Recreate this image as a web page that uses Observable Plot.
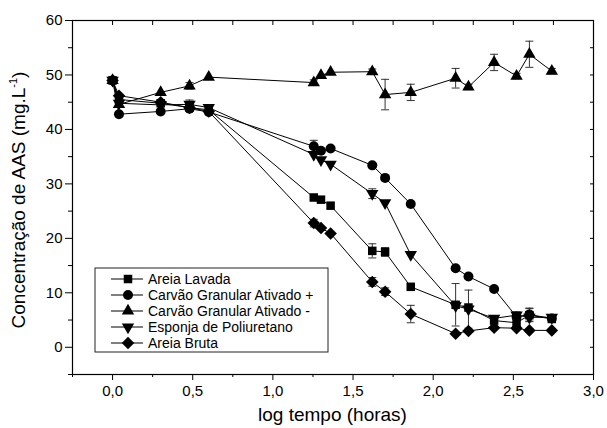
<!DOCTYPE html>
<html><head><meta charset="utf-8">
<script src="https://cdn.jsdelivr.net/npm/d3@7"></script>
<script src="https://cdn.jsdelivr.net/npm/@observablehq/plot@0.6"></script>
<style>
body{margin:0;background:#fff;}
#chart{width:607px;height:428px;}
</style>
</head><body><div id="chart"></div>
<script>
// ---- data ----
const logTempo = [0, 0.04, 0.30, 0.48, 0.60, 1.255, 1.30, 1.36, 1.62, 1.70, 1.86, 2.14, 2.22, 2.38, 2.52, 2.60, 2.74];

const seriesNames = ["Areia Lavada", "Carvão Granular Ativado +", "Carvão Granular Ativado -", "Esponja de Poliuretano", "Areia Bruta"];

const areiaLavada      = [49, 45.5, 44.8, 44.0, 43.6, 27.5, 27.1, 26.0, 17.7, 17.5, 11.1, 7.8, 7.3, 4.9, 4.5, 5.9, 5.2];
const areiaLavadaErr   = [0, 0, 0, 0, 0, 0, 0, 0, 1.3, 0.8, 0, 3.9, 0, 0, 0, 1.2, 0];

const carvaoMais       = [49, 42.8, 43.3, 43.8, 43.2, 36.9, 36.1, 36.5, 33.4, 31.1, 26.3, 14.5, 13.0, 10.7, 5.6, 6.0, 5.3];
const carvaoMaisErr    = [0, 0, 0, 0, 0, 1.1, 0, 0, 0, 0, 0, 0, 0, 0, 0, 1.2, 0];

const carvaoMenos      = [49, 44.6, 46.8, 48.0, 49.6, 48.6, 49.9, 50.5, 50.6, 46.4, 46.8, 49.4, 47.8, 52.3, 49.8, 53.8, 50.7];
const carvaoMenosErr   = [0, 0, 0, 0.6, 0, 0.5, 0, 0, 0.5, 2.8, 1.5, 1.8, 0.5, 1.5, 0.5, 2.4, 0.5];

const esponja          = [49, 44.8, 44.5, 44.6, 44.0, 35.4, 34.4, 33.6, 28.2, 26.5, 17.0, 7.6, 7.0, 5.3, 5.9, 5.5, 5.5];
const esponjaErr       = [0, 0, 0, 0.8, 0, 0, 0, 0, 0.9, 0, 0, 0, 3.5, 0, 0.6, 0, 0];

const areiaBruta       = [49, 46.2, 45.0, 44.0, 43.3, 22.8, 21.9, 20.9, 12.0, 10.2, 6.1, 2.5, 3.0, 3.6, 3.5, 3.1, 3.1];
const areiaBrutaErr    = [0, 0, 0, 0, 0, 0.7, 0, 0, 0.8, 0.7, 1.6, 0, 0, 0, 0, 0, 0];

const xTicks      = [0, 0.5, 1.0, 1.5, 2.0, 2.5, 3.0];
const xMinorTicks = [-0.25, 0.25, 0.75, 1.25, 1.75, 2.25, 2.75];
const yTicks      = [0, 10, 20, 30, 40, 50, 60];
const yMinorTicks = [-5, 5, 15, 25, 35, 45, 55];

// ---- styles ----
const seriesValues = [areiaLavada, carvaoMais, carvaoMenos, esponja, areiaBruta];
const seriesErrs   = [areiaLavadaErr, carvaoMaisErr, carvaoMenosErr, esponjaErr, areiaBrutaErr];
const markerStyle = [
  {symbol: "square",   rotate: 0,   r: 4.8},
  {symbol: "circle",   rotate: 0,   r: 5},
  {symbol: "triangle", rotate: 0,   r: 4.6},
  {symbol: "triangle", rotate: 180, r: 4.6},
  {symbol: "square",   rotate: 45,  r: 5}
];

const rows = [];
seriesNames.forEach((name, i) => {
  logTempo.forEach((x, j) => rows.push({series: name, idx: i, x, y: seriesValues[i][j], err: seriesErrs[i][j]}));
});
const errRows = rows.filter(d => d.err > 0);

const capSymbol = {
  draw(context, size) {
    const r = Math.sqrt(size / Math.PI);
    context.moveTo(-r, 0);
    context.lineTo(r, 0);
  }
};

const fmt = d => d.toFixed(1).replace(".", ",");

const W = 607, H = 428, ML = 72, MR = 14, MT = 20, MB = 54;

const plot = Plot.plot({
  width: W, height: H,
  marginLeft: ML, marginRight: MR, marginTop: MT, marginBottom: MB,
  style: {fontFamily: "'Liberation Sans', Arial, sans-serif", fontSize: "15px", color: "black", background: "white"},
  x: {domain: [-0.25, 3.0]},
  y: {domain: [-5, 60]},
  marks: [
    Plot.axisX({ticks: xTicks, tickSize: 6, tickPadding: 5, tickFormat: fmt, label: null, fontSize: 15}),
    Plot.axisX({ticks: xMinorTicks, tickSize: 3, tickFormat: () => "", label: null}),
    Plot.axisX({anchor: "top", ticks: [...xTicks, ...xMinorTicks], tickSize: 4, dy: 4, tickFormat: () => "", label: null}),
    Plot.axisY({ticks: yTicks, tickSize: 7, tickPadding: 3, tickFormat: d => String(d), label: null, fontSize: 15}),
    Plot.axisY({ticks: yMinorTicks, tickSize: 4, tickFormat: () => "", label: null}),
    Plot.axisY({anchor: "right", ticks: [...yTicks, ...yMinorTicks], tickSize: 4, dx: -4, tickFormat: () => "", label: null}),
    Plot.frame({stroke: "black", strokeWidth: 1.2}),
    Plot.line(rows, {x: "x", y: "y", z: "series", stroke: "black", strokeWidth: 1}),
    Plot.ruleX(errRows, {x: "x", y1: d => d.y - d.err, y2: d => d.y + d.err, stroke: "#333", strokeWidth: 1}),
    Plot.dot(errRows, {x: "x", y: d => d.y + d.err, symbol: capSymbol, r: 4, stroke: "#333", fill: "none", strokeWidth: 1}),
    Plot.dot(errRows, {x: "x", y: d => d.y - d.err, symbol: capSymbol, r: 4, stroke: "#333", fill: "none", strokeWidth: 1}),
    ...seriesNames.map((name, i) => Plot.dot(rows.filter(d => d.idx === i), {
      x: "x", y: "y", symbol: markerStyle[i].symbol, rotate: markerStyle[i].rotate, r: markerStyle[i].r,
      fill: "black", stroke: "none"
    }))
  ]
});

const svg = d3.select(plot);
svg.style("font-family", "'Liberation Sans', Arial, sans-serif");

// axis titles
svg.append("text")
  .attr("x", (ML + W - MR) / 2).attr("y", 421)
  .attr("text-anchor", "middle").attr("font-size", 19).attr("fill", "black")
  .text("log tempo (horas)");

const yt = svg.append("text")
  .attr("transform", `translate(25,${(MT + H - MB) / 2 + 3}) rotate(-90)`)
  .attr("text-anchor", "middle").attr("font-size", 19).attr("fill", "black");
yt.append("tspan").text("Concentração de AAS (mg.L");
yt.append("tspan").attr("font-size", 11).attr("dy", -8).text("-1");
yt.append("tspan").attr("dy", 8).text(")");

// legend
const lg = svg.append("g").attr("text-anchor", "start");
const lx = 95, ly = 268, lw = 233, lh = 84, rowH = 16;
lg.append("rect").attr("x", lx).attr("y", ly).attr("width", lw).attr("height", lh)
  .attr("fill", "white").attr("stroke", "#222").attr("stroke-width", 1);
const symMap = {square: d3.symbolSquare, circle: d3.symbolCircle, triangle: d3.symbolTriangle};
seriesNames.forEach((name, i) => {
  const cy = ly + 11 + i * rowH;
  lg.append("line").attr("x1", lx + 16).attr("x2", lx + 48).attr("y1", cy).attr("y2", cy)
    .attr("stroke", "black").attr("stroke-width", 1);
  const st = markerStyle[i];
  lg.append("path")
    .attr("d", d3.symbol().type(symMap[st.symbol]).size(Math.PI * st.r * st.r)())
    .attr("transform", `translate(${lx + 33},${cy}) rotate(${st.rotate})`)
    .attr("fill", "black");
  lg.append("text").attr("x", lx + 53).attr("y", cy).attr("dy", "0.36em")
    .attr("text-anchor", "start")
    .attr("font-size", 14).attr("fill", "black").text(name);
});

document.getElementById("chart").appendChild(plot);
</script>
</body></html>
